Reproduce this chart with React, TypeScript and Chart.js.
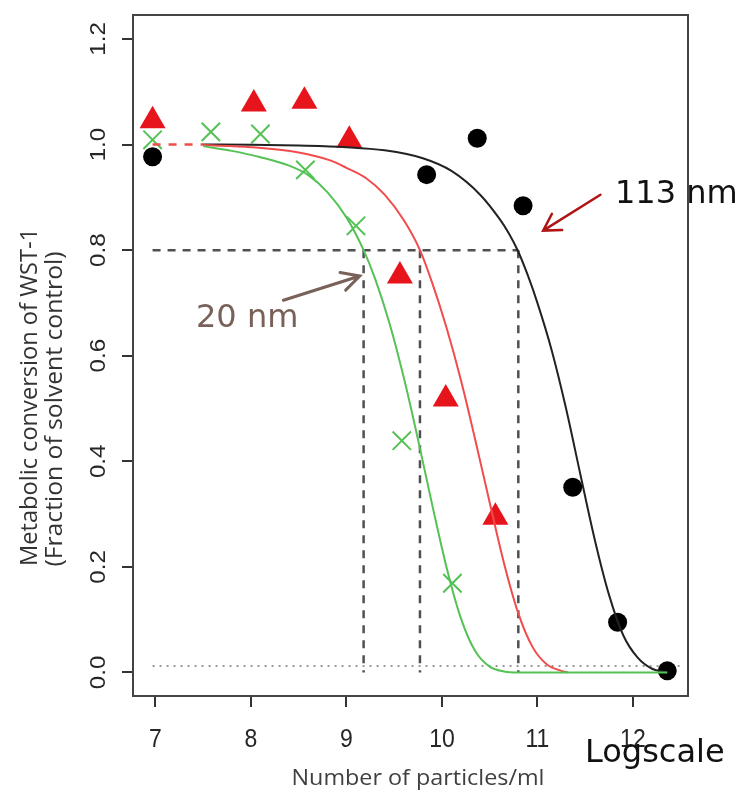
import React, { useEffect, useRef } from 'react';
import { Chart, registerables } from 'chart.js';

Chart.register(...registerables);

// ---- axes ----
const xTicks = [7, 8, 9, 10, 11, 12];
const xTickLabels = ['7', '8', '9', '10', '11', '12'];
const yTicks = [0, 0.2, 0.4, 0.6, 0.8, 1.0, 1.2];
const yTickLabels = ['0.0', '0.2', '0.4', '0.6', '0.8', '1.0', '1.2'];
const xRange = [6.765, 12.577];
const yRange = [-0.0446, 1.2454];
const xTitle = 'Number of particles/ml';
const yTitle1 = 'Metabolic conversion of WST-1';
const yTitle2 = '(Fraction of solvent control)';

// ---- 113 nm (black circles) ----
const nm113X = [6.97, 9.84, 10.37, 10.85, 11.37, 11.84, 12.36];
const nm113Y = [0.977, 0.943, 1.012, 0.884, 0.351, 0.095, 0.003];
const nm113FitX = [7.5, 8.0, 8.5, 9.0, 9.4, 9.8, 10.1, 10.4, 10.6, 10.7, 10.8, 10.9, 11.0, 11.15, 11.3, 11.45, 11.6, 11.75, 11.9, 12.05, 12.2, 12.36];
const nm113FitY = [1.0, 0.9995, 0.998, 0.995, 0.989, 0.974, 0.95, 0.905, 0.86, 0.832, 0.797, 0.752, 0.7, 0.61, 0.5, 0.375, 0.252, 0.147, 0.07, 0.028, 0.007, 0.0];

// ---- red triangles ----
const triX = [6.97, 8.03, 8.56, 9.03, 9.56, 10.04, 10.56];
const triY = [1.045, 1.077, 1.082, 1.008, 0.751, 0.518, 0.294];
const triFitX = [7.5, 8.0, 8.5, 8.83, 9.0, 9.2, 9.4, 9.6, 9.77, 9.9, 10.05, 10.2, 10.35, 10.5, 10.65, 10.8, 10.95, 11.1, 11.25, 11.32];
const triFitY = [0.999, 0.995, 0.985, 0.97, 0.956, 0.937, 0.905, 0.857, 0.8, 0.737, 0.652, 0.553, 0.44, 0.322, 0.207, 0.112, 0.048, 0.015, 0.003, 0.0];
const triExtX = [6.97, 7.5];
const triExtY = [1.0, 1.0];

// ---- 20 nm (green crosses) ----
const nm20X = [6.97, 7.58, 8.1, 8.57, 9.1, 9.58, 10.11];
const nm20Y = [1.009, 1.024, 1.02, 0.952, 0.846, 0.439, 0.169];
const nm20FitX = [7.5, 7.8, 8.1, 8.4, 8.6, 8.8, 9.0, 9.18, 9.3, 9.45, 9.6, 9.75, 9.9, 10.05, 10.2, 10.35, 10.5, 10.65, 10.8, 12.36];
const nm20FitY = [0.997, 0.988, 0.976, 0.96, 0.942, 0.91, 0.862, 0.8, 0.746, 0.662, 0.559, 0.441, 0.316, 0.198, 0.102, 0.04, 0.011, 0.002, 0.0, 0.0];

// ---- guide lines ----
const ec80Level = 0.8;
const ec80X = [9.18, 9.77, 10.8];
const guideStartX = 6.97;
const floorLevel = 0.012;
const floorX = [6.97, 12.5];

// ---- annotation arrows (data coords: tail x, tail y, tip x, tip y) ----
const arrow113 = [11.66, 0.905, 11.06, 0.837];
const arrow20 = [8.34, 0.705, 9.14, 0.751];

const pts = (xs: number[], ys: number[]) => xs.map((x, i) => ({ x, y: ys[i] }));

function fitText(ctx: CanvasRenderingContext2D, text: string, x: number, y: number, rot: number, font: string, color: string, len: number) {
  ctx.save();
  ctx.font = font;
  const w = ctx.measureText(text).width;
  ctx.translate(x, y);
  ctx.rotate(rot);
  ctx.scale(len / w, 1);
  ctx.fillStyle = color;
  ctx.textAlign = 'center';
  ctx.textBaseline = 'alphabetic';
  ctx.fillText(text, 0, 0);
  ctx.restore();
}

function arrow(ctx: CanvasRenderingContext2D, x0: number, y0: number, x1: number, y1: number, color: string, lw: number, head: number, half: number) {
  ctx.save();
  ctx.strokeStyle = color;
  ctx.lineWidth = lw;
  ctx.lineCap = 'round';
  ctx.beginPath();
  ctx.moveTo(x0, y0);
  ctx.lineTo(x1, y1);
  const ang = Math.atan2(y0 - y1, x0 - x1);
  ctx.moveTo(x1 + head * Math.cos(ang + half), y1 + head * Math.sin(ang + half));
  ctx.lineTo(x1, y1);
  ctx.lineTo(x1 + head * Math.cos(ang - half), y1 + head * Math.sin(ang - half));
  ctx.stroke();
  ctx.restore();
}

const TICK_FONT_X = '23px "Liberation Sans", Arial, sans-serif';
const TICK_FONT_Y = '22px "Liberation Sans", Arial, sans-serif';
const TITLE_FONT_X = '22px "Open Sans", sans-serif';
const TITLE_FONT_Y = '23px "Open Sans", sans-serif';

const overlay = {
  id: 'overlay',
  afterDraw(chart: any) {
    const { ctx, chartArea: a, scales } = chart;
    const sx = scales.x;
    const sy = scales.y;
    ctx.save();
    ctx.strokeStyle = '#444';
    ctx.lineWidth = 2;
    ctx.strokeRect(a.left, a.top, a.right - a.left, a.bottom - a.top);

    // x tick labels
    xTicks.forEach((v, i) => {
      const px = sx.getPixelForValue(v);
      ctx.save();
      ctx.translate(px, 747);
      ctx.scale(1, 1.1);
      ctx.font = TICK_FONT_X;
      ctx.fillStyle = '#262626';
      ctx.textAlign = 'center';
      ctx.textBaseline = 'alphabetic';
      ctx.fillText(xTickLabels[i], 0, 0);
      ctx.restore();
    });
    // y tick labels (rotated)
    yTicks.forEach((v, i) => {
      const py = sy.getPixelForValue(v);
      ctx.save();
      ctx.translate(105, py);
      ctx.rotate(-Math.PI / 2);
      ctx.scale(1.1, 1);
      ctx.font = TICK_FONT_Y;
      ctx.fillStyle = '#262626';
      ctx.textAlign = 'center';
      ctx.textBaseline = 'alphabetic';
      ctx.fillText(yTickLabels[i], 0, 0);
      ctx.restore();
    });

    // axis titles
    fitText(ctx, xTitle, 418, 785, 0, TITLE_FONT_X, '#404040', 253);
    fitText(ctx, yTitle1, 37, 397, -Math.PI / 2, TITLE_FONT_Y, '#333', 338);
    fitText(ctx, yTitle2, 62, 409, -Math.PI / 2, TITLE_FONT_Y, '#333', 315);

    // annotations
    ctx.font = '32px "DejaVu Sans", sans-serif';
    ctx.textAlign = 'left';
    ctx.textBaseline = 'alphabetic';
    ctx.fillStyle = '#111';
    ctx.fillText('113 nm', 615, 203);
    ctx.fillText('Logscale', 585, 762);
    ctx.fillStyle = '#776158';
    ctx.fillText('20 nm', 196, 327);

    arrow(ctx, sx.getPixelForValue(arrow113[0]), sy.getPixelForValue(arrow113[1]), sx.getPixelForValue(arrow113[2]), sy.getPixelForValue(arrow113[3]), '#b01414', 2.5, 19, 0.53);
    arrow(ctx, sx.getPixelForValue(arrow20[0]), sy.getPixelForValue(arrow20[1]), sx.getPixelForValue(arrow20[2]), sy.getPixelForValue(arrow20[3]), '#776158', 3, 20, 0.48);
    ctx.restore();
  },
};

const GREEN = '#55c255';
const RED_LINE = '#f04c4c';
const RED_MARK = '#e8141c';

export default function App() {
  const ref = useRef<HTMLCanvasElement>(null);
  useEffect(() => {
    document.body.style.margin = '0';
    const canvas = ref.current!;
    const line = (data: any[], color: string, width: number, dash: number[] = []) => ({
      type: 'line',
      data,
      borderColor: color,
      borderWidth: width,
      borderDash: dash,
      pointRadius: 0,
      showLine: true,
      fill: false,
      cubicInterpolationMode: data.length > 2 ? 'monotone' : 'default',
    });
    const datasets: any[] = [
      line(pts(nm20FitX, nm20FitY), GREEN, 2),
      line(pts(triFitX, triFitY), RED_LINE, 2),
      line(pts(nm113FitX, nm113FitY), '#222', 2),
      line(pts(triExtX, triExtY), RED_LINE, 2.5, [8, 8]),
      {
        type: 'scatter', data: pts(nm20X, nm20Y), pointStyle: 'crossRot', pointRadius: 13,
        borderColor: GREEN, backgroundColor: GREEN, pointBorderWidth: 2, borderWidth: 2,
      },
      {
        type: 'scatter', data: pts(triX, triY), pointStyle: 'triangle', pointRadius: 15,
        backgroundColor: RED_MARK, borderColor: RED_MARK, borderWidth: 0, pointBorderWidth: 0,
      },
      {
        type: 'scatter', data: pts(nm113X, nm113Y), pointStyle: 'circle', pointRadius: 9.5,
        backgroundColor: '#000', borderColor: '#000', borderWidth: 0, pointBorderWidth: 0,
      },
      line([{ x: guideStartX, y: ec80Level }, { x: ec80X[ec80X.length - 1], y: ec80Level }], '#505050', 2.5, [8, 7]),
      ...ec80X.map((v) => line([{ x: v, y: ec80Level }, { x: v, y: 0 }], '#505050', 2.5, [8, 7])),
      line(pts(floorX, [floorLevel, floorLevel]), '#9a9a9a', 2, [2, 5]),
    ];

    const chart = new Chart(canvas, {
      type: 'scatter',
      data: { datasets },
      options: {
        animation: false,
        responsive: false,
        devicePixelRatio: 1,
        events: [],
        layout: { padding: { left: 122, top: 11, right: 52, bottom: 89 } },
        plugins: { legend: { display: false }, tooltip: { enabled: false } },
        scales: {
          x: {
            type: 'linear', min: xRange[0], max: xRange[1],
            afterBuildTicks: (s: any) => { s.ticks = xTicks.map((v) => ({ value: v })); },
            ticks: { display: false },
            grid: { drawOnChartArea: false, drawTicks: true, tickLength: 11, color: '#333', lineWidth: 2 },
            border: { display: true, color: '#444', width: 2 },
          },
          y: {
            type: 'linear', min: yRange[0], max: yRange[1],
            afterBuildTicks: (s: any) => { s.ticks = yTicks.map((v) => ({ value: v })); },
            ticks: { display: false },
            grid: { drawOnChartArea: false, drawTicks: true, tickLength: 11, color: '#333', lineWidth: 2 },
            border: { display: true, color: '#444', width: 2 },
          },
        },
      } as any,
      plugins: [overlay],
    } as any);
    return () => chart.destroy();
  }, []);
  return (
    <div style={{ width: 740, height: 796 }}>
      <canvas ref={ref} width={740} height={796} style={{ display: 'block' }} />
    </div>
  );
}
